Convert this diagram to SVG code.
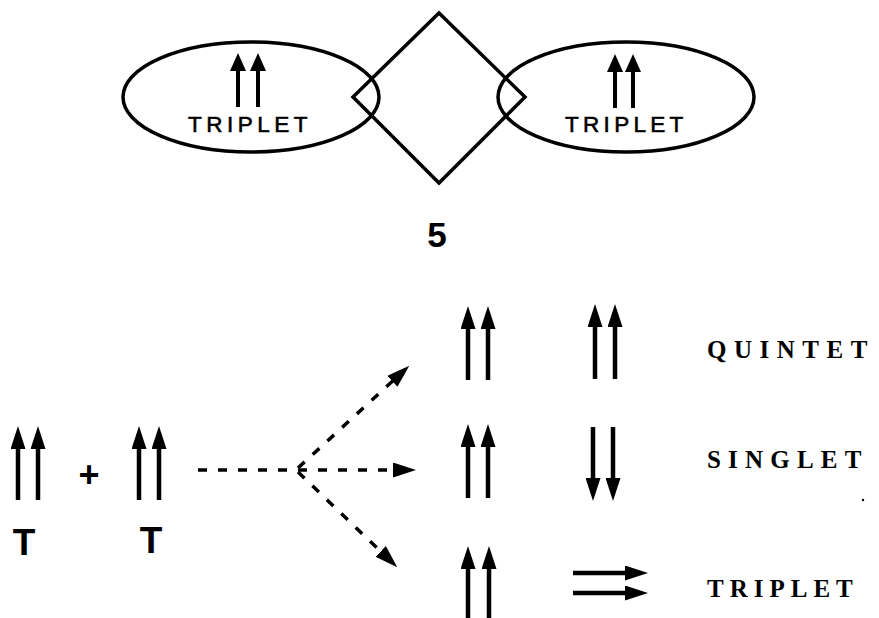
<svg xmlns="http://www.w3.org/2000/svg" width="879" height="618" viewBox="0 0 879 618">
  <style>
    .shape { fill: none; stroke: #000; stroke-width: 3.5; }
    .arr { stroke: #000; stroke-width: 4.5; fill: none; marker-end: url(#head); }
    .arrS { stroke: #000; stroke-width: 4; fill: none; marker-end: url(#headS); }
    .dash { stroke: #000; stroke-width: 3.5; fill: none; stroke-dasharray: 9 11; marker-end: url(#head); }
    .sans { font-family: "Liberation Sans", Arial, sans-serif; fill: #000; }
    .lbl { stroke: #000; stroke-width: 0.6; }
    .serif { font-family: "Liberation Serif", "Times New Roman", serif; fill: #000; font-size: 25px; font-weight: bold; }
  </style>
  <defs>
    <marker id="head" markerUnits="userSpaceOnUse" markerWidth="23" markerHeight="15" viewBox="0 0 23 15" refX="1" refY="7.5" orient="auto">
      <path d="M0,0 L23,7.5 L0,15 z" fill="#000"/>
    </marker>
    <marker id="headS" markerUnits="userSpaceOnUse" markerWidth="18" markerHeight="16" viewBox="0 0 18 16" refX="1" refY="8" orient="auto">
      <path d="M0,0 L18,8 L0,16 z" fill="#000"/>
    </marker>
  </defs>

  <g id="left-triplet">
    <ellipse class="shape" cx="251" cy="97" rx="128" ry="55"/>
    <line class="arrS" x1="238" y1="107" x2="238" y2="70"/>
    <line class="arrS" x1="258" y1="107" x2="258" y2="70"/>
    <text class="sans lbl" x="188" y="132" font-size="22.5" letter-spacing="4.5">TRIPLET</text>
  </g>
  <g id="diamond">
    <polygon class="shape" points="439,13 525,97 439,183 353,97"/>
  </g>
  <g id="right-triplet">
    <ellipse class="shape" cx="626" cy="97" rx="128" ry="55"/>
    <line class="arrS" x1="615" y1="108" x2="615" y2="71"/>
    <line class="arrS" x1="633" y1="108" x2="633" y2="71"/>
    <text class="sans lbl" x="565" y="132" font-size="22.5" letter-spacing="4.3">TRIPLET</text>
  </g>
  <g id="label-5">
    <text class="sans" x="437" y="247" font-size="35" font-weight="bold" text-anchor="middle">5</text>
  </g>

  <g id="T1">
    <line class="arr" x1="18" y1="500" x2="18" y2="448"/>
    <line class="arr" x1="38" y1="500" x2="38" y2="448"/>
    <text class="sans" x="24" y="555" font-size="37" font-weight="bold" text-anchor="middle">T</text>
  </g>
  <g id="plus">
    <text class="sans" x="89" y="487" font-size="36" font-weight="bold" text-anchor="middle">+</text>
  </g>
  <g id="T2">
    <line class="arr" x1="139" y1="500" x2="139" y2="448"/>
    <line class="arr" x1="159" y1="500" x2="159" y2="448"/>
    <text class="sans" x="151" y="553" font-size="37" font-weight="bold" text-anchor="middle">T</text>
  </g>

  <g id="connectors">
    <path class="dash" d="M198,470 L394,470"/>
    <path class="dash" d="M298,468 L393.1,380.6"/>
    <path class="dash" d="M298,472 L381.4,552.1"/>
  </g>

  <g id="quintet">
    <line class="arr" x1="468" y1="380" x2="468" y2="328"/>
    <line class="arr" x1="488" y1="380" x2="488" y2="328"/>
    <line class="arr" x1="595" y1="379" x2="595" y2="326"/>
    <line class="arr" x1="615" y1="379" x2="615" y2="326"/>
    <text class="serif" x="707" y="358" letter-spacing="7.5">QUINTET</text>
  </g>
  <g id="singlet">
    <line class="arr" x1="468" y1="498" x2="468" y2="446"/>
    <line class="arr" x1="488" y1="498" x2="488" y2="446"/>
    <line class="arr" x1="593" y1="427" x2="593" y2="479"/>
    <line class="arr" x1="613" y1="427" x2="613" y2="479"/>
    <text class="serif" x="707" y="468" letter-spacing="7.2">SINGLET</text>
    <circle cx="863" cy="500" r="1.2" fill="#000"/>
  </g>
  <g id="triplet">
    <line class="arr" x1="468" y1="620" x2="468" y2="568"/>
    <line class="arr" x1="489" y1="620" x2="489" y2="568"/>
    <line class="arr" x1="573" y1="573" x2="626" y2="573"/>
    <line class="arr" x1="573" y1="593" x2="626" y2="593"/>
    <text class="serif" x="707" y="597" letter-spacing="6">TRIPLET</text>
  </g>
</svg>
